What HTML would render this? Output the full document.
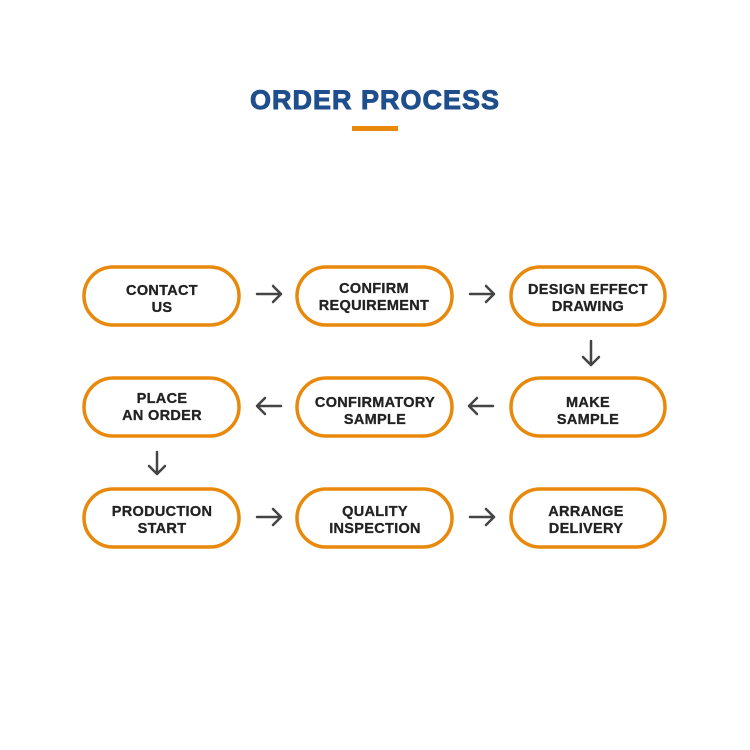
<!DOCTYPE html>
<html><head><meta charset="utf-8"><style>
html,body{margin:0;padding:0;background:#fff;}
svg{display:block;}
text{font-family:"Liberation Sans",Arial,sans-serif;font-weight:bold;}
</style></head><body>
<svg width="750" height="750" viewBox="0 0 750 750" xmlns="http://www.w3.org/2000/svg">
<rect width="750" height="750" fill="#fff"/>
<text x="375" y="109" text-anchor="middle" font-size="27" fill="#1f4e8c" stroke="#1f4e8c" stroke-width="0.9" letter-spacing="1">ORDER PROCESS</text>
<rect x="352" y="126" width="46" height="5" fill="#e8890c"/>
<g fill="#fff" stroke="#e8890c" stroke-width="3.5">
<rect x="84" y="267" width="155" height="58" rx="29"/>
<rect x="297" y="267" width="155" height="58" rx="29"/>
<rect x="511" y="267" width="154" height="58" rx="29"/>
<rect x="84" y="378" width="155" height="58" rx="29"/>
<rect x="297" y="378" width="155" height="58" rx="29"/>
<rect x="511" y="378" width="154" height="58" rx="29"/>
<rect x="84" y="489" width="155" height="58" rx="29"/>
<rect x="297" y="489" width="155" height="58" rx="29"/>
<rect x="511" y="489" width="154" height="58" rx="29"/>
</g>
<g font-size="14.5" fill="#222" stroke="#222" stroke-width="0.3" text-anchor="middle" letter-spacing="0.3">
<text x="162" y="295">CONTACT</text><text x="162" y="312">US</text>
<text x="374" y="293">CONFIRM</text><text x="374" y="310">REQUIREMENT</text>
<text x="588" y="294">DESIGN EFFECT</text><text x="588" y="311">DRAWING</text>
<text x="162" y="403">PLACE</text><text x="162" y="420">AN ORDER</text>
<text x="375" y="407">CONFIRMATORY</text><text x="375" y="424">SAMPLE</text>
<text x="588" y="407">MAKE</text><text x="588" y="424">SAMPLE</text>
<text x="162" y="516">PRODUCTION</text><text x="162" y="533">START</text>
<text x="375" y="516">QUALITY</text><text x="375" y="533">INSPECTION</text>
<text x="586" y="516">ARRANGE</text><text x="586" y="533">DELIVERY</text>
</g>
<g stroke="#444" stroke-width="2.5" fill="none" stroke-linecap="round" stroke-linejoin="round">
<path d="M257 294H281M273 286L281 294L273 302"/>
<path d="M470 294H494M486 286L494 294L486 302"/>
<path d="M591 341V365M583 357L591 365L599 357"/>
<path d="M493 406H469M477 398L469 406L477 414"/>
<path d="M281 406H257M265 398L257 406L265 414"/>
<path d="M157 452V474M149 466L157 474L165 466"/>
<path d="M257 517H281M273 509L281 517L273 525"/>
<path d="M470 517H494M486 509L494 517L486 525"/>
</g>
</svg>
</body></html>
